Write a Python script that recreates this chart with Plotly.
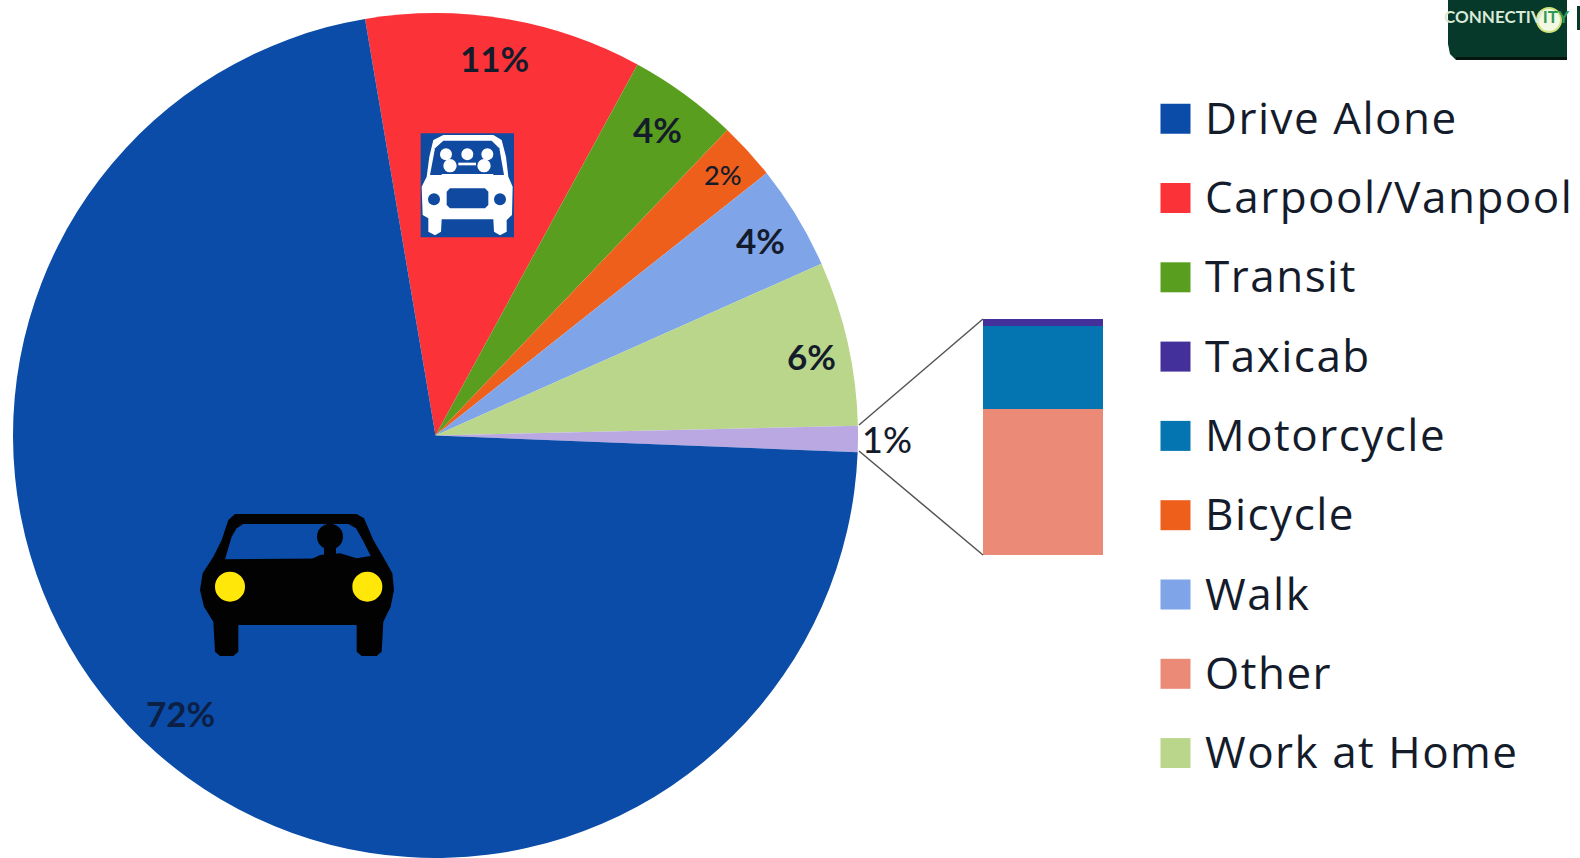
import plotly.graph_objects as go

W, H = 1580, 858

# ---- data ----
pie_labels = ["Carpool/Vanpool", "Transit", "Bicycle", "Walk", "Work at Home", "Other modes", "Drive Alone"]
pie_values = [10.6, 4.2, 2.2, 4.0, 6.3, 1.0, 71.7]
pie_colors = ["#fb3338", "#5a9e1f", "#ee5f1b", "#7fa4e8", "#b9d68b", "#b9a8e2", "#0a4ca8"]
pct_text = ["11%", "4%", "2%", "4%", "6%", "1%", "72%"]

stack_names = ["Other", "Motorcycle", "Taxicab"]
stack_values = [0.62, 0.35, 0.03]
stack_colors = ["#ec8a78", "#0475b0", "#44309a"]

legend_names = ["Drive Alone", "Carpool/Vanpool", "Transit", "Taxicab", "Motorcycle",
                "Bicycle", "Walk", "Other", "Work at Home"]
legend_colors = ["#0a4ca8", "#fb3338", "#5a9e1f", "#44309a", "#0475b0",
                 "#ee5f1b", "#7fa4e8", "#ec8a78", "#b9d68b"]

FONT = "Lato, Carlito, Calibri, sans-serif"
LEGEND_FONT = "Open Sans, Lato, sans-serif"
INK = "#141c2c"


def px(x):
    return x / W


def py(y):
    return 1 - y / H


def poly(points, fill):
    d = "M" + " L".join(f"{px(x):.5f} {py(y):.5f}" for x, y in points) + " Z"
    return dict(type="path", xref="paper", yref="paper", path=d,
                fillcolor=fill, line=dict(width=0), layer="above")


def circle(cx, cy, r, fill, line=None):
    return dict(type="circle", xref="paper", yref="paper",
                x0=px(cx - r), x1=px(cx + r), y0=py(cy + r), y1=py(cy - r),
                fillcolor=fill, line=dict(width=0) if line is None else line, layer="above")


def rect(x0, y0, x1, y1, fill):
    return dict(type="rect", xref="paper", yref="paper",
                x0=px(x0), x1=px(x1), y0=py(y1), y1=py(y0),
                fillcolor=fill, line=dict(width=0), layer="above")


fig = go.Figure()

fig.add_trace(go.Pie(
    labels=pie_labels, values=pie_values, sort=False, direction="clockwise", rotation=-9.6,
    marker=dict(colors=pie_colors, line=dict(width=0)),
    textinfo="none", showlegend=False, hole=0,
    domain=dict(x=[px(13), px(858)], y=[0, py(13)]),
))

for name, val, col in zip(stack_names, stack_values, stack_colors):
    fig.add_trace(go.Bar(x=["Other modes"], y=[val], name=name, width=1, showlegend=False,
                         marker=dict(color=col, line=dict(width=0)), xaxis="x", yaxis="y"))

fig.add_trace(go.Scatter(
    x=[0] * len(legend_names), y=legend_names, mode="markers", showlegend=False,
    marker=dict(symbol="square", size=30, color=legend_colors, line=dict(width=0)),
    xaxis="x2", yaxis="y2", hoverinfo="y",
))

# ---- pie labels ----
label_pos = {0: (494, 58, 35, 700), 1: (657, 129, 35, 700), 2: (722, 174, 27, 500),
             3: (760, 240, 35, 700), 4: (812, 356, 35, 700), 5: (887, 439, 36, 500),
             6: (180, 713, 35, 700)}
ann = []
for i, (x, y, s, w) in label_pos.items():
    ann.append(dict(x=px(x), y=py(y), xref="paper", yref="paper", text=pct_text[i], showarrow=False,
                    xanchor="center", yanchor="middle",
                    font=dict(family=FONT, size=s, color="#0c1f45" if i == 6 else INK, weight=w)))

for name in legend_names:
    ann.append(dict(x=px(1203), xref="paper", y=name, yref="y2", text=name, showarrow=False,
                    xanchor="left", align="left", yanchor="middle", yshift=2,
                    font=dict(family=LEGEND_FONT, size=44, color=INK)))

# ---- logo text ----
ann.append(dict(x=px(1507), y=py(16), xref="paper", yref="paper", showarrow=False,
                xanchor="center", yanchor="middle",
                text='<span style="color:#d9ead8">CONNECTIV</span><span style="color:#2f9a55">ITY</span>',
                font=dict(family=FONT, size=17, weight=700)))

# ---- decorative pieces ----
shapes = []
line_style = dict(color="#555555", width=1.5)
for (x0, y0, x1, y1) in [(859, 425, 983, 319), (859, 451, 983, 555)]:
    shapes.append(dict(type="line", xref="paper", yref="paper", x0=px(x0), x1=px(x1),
                       y0=py(y0), y1=py(y1), line=line_style, layer="above"))

# logo
shapes.append(poly([(1448, 0), (1567, 0), (1567, 60), (1456, 60), (1450, 54), (1448, 44)], "#07392a"))
shapes.append(rect(1456, 57, 1567, 60, "#02150f"))
shapes.append(rect(1577, 6, 1580, 30, "#07392a"))
shapes.append(circle(1549, 20, 12, "#f2f8e2", dict(color="#cfe37a", width=2)))


def car(zx, zy):
    return (180 + zx / 3, 490 + zy / 3)


body = [(165, 72), (530, 72), (552, 85), (580, 150), (612, 205), (637, 250), (642, 300), (632, 350),
        (610, 395), (605, 485), (590, 498), (545, 498), (530, 485), (530, 405), (175, 405), (175, 485),
        (160, 498), (120, 498), (105, 485), (100, 395), (72, 350), (60, 300), (68, 250), (100, 200),
        (125, 150), (145, 90)]
window = [(190, 102), (505, 102), (528, 115), (548, 150), (572, 198), (530, 205), (135, 208),
          (155, 140), (170, 115)]
shoulders = [(385, 212), (420, 195), (480, 190), (530, 205), (530, 220), (385, 220)]
shapes.append(poly([car(*p) for p in body], "#020202"))
shapes.append(poly([car(*p) for p in window], "#0a4ca8"))
shapes.append(poly([car(*p) for p in shoulders], "#020202"))
shapes.append(rect(*car(432, 160), *car(468, 200), "#020202"))
hx, hy = car(450, 140)
shapes.append(circle(hx, hy, 13, "#020202"))
for zx in (150, 562):
    cx, cy = car(zx, 290)
    shapes.append(circle(cx, cy, 15, "#ffe70a"))


def van(zx, zy):
    return (400 + zx / 3, 120 + zy / 3)


VB = "#0f4aa0"
shapes.append(rect(*van(62, 40), *van(342, 352), VB))
van_body = [(130, 45), (280, 45), (305, 60), (318, 110), (325, 170), (338, 200), (336, 285), (320, 300),
            (320, 335), (300, 346), (282, 335), (280, 298), (125, 298), (123, 335), (105, 346), (85, 335),
            (85, 295), (68, 285), (65, 200), (80, 170), (88, 110), (100, 60)]
van_window = [(130, 62), (275, 62), (298, 85), (312, 165), (90, 165), (105, 85)]
shapes.append(poly([van(*p) for p in van_body], "#ffffff"))
shapes.append(poly([van(*p) for p in van_window], VB))
for zx, zy, r in [(138, 103, 18), (202, 103, 18), (262, 103, 18), (150, 137, 20), (252, 137, 20)]:
    cx, cy = van(zx, zy)
    shapes.append(circle(cx, cy, r / 3, "#ffffff"))
shapes.append(rect(*van(175, 128), *van(228, 136), "#ffffff"))
shapes.append(rect(*van(125, 162), *van(280, 168), "#ffffff"))
for zx in (102, 300):
    cx, cy = van(zx, 238)
    shapes.append(circle(cx, cy, 6, VB))
shapes.append(poly([van(*p) for p in [(150, 205), (255, 205), (265, 215), (265, 255), (255, 265),
                                      (150, 265), (140, 255), (140, 215)]], VB))

top, step = 118.7, 79.3
fig.update_layout(
    width=W, height=H, margin=dict(l=0, r=0, t=0, b=0),
    paper_bgcolor="white", plot_bgcolor="rgba(0,0,0,0)",
    barmode="stack", showlegend=False, bargap=0,
    xaxis=dict(domain=[px(983), px(1103)], range=[-0.5, 0.5], type="category", visible=False, fixedrange=True),
    yaxis=dict(domain=[py(555), py(319)], range=[0, 1], visible=False, fixedrange=True),
    xaxis2=dict(domain=[px(1150), px(1201)], range=[-1, 1], visible=False, fixedrange=True, anchor="y2"),
    yaxis2=dict(domain=[py(top + 8.5 * step), py(top - 0.5 * step)], type="category",
                categoryorder="array", categoryarray=legend_names, range=[8.5, -0.5],
                visible=False, fixedrange=True, anchor="x2"),
    shapes=shapes, annotations=ann,
)

post = ("document.body.style.margin='0';document.body.style.overflow='hidden';"
        "document.querySelectorAll('.annotation-text').forEach(function(t){"
        "if(t.textContent.length>3 && t.textContent!=='CONNECTIVITY'){t.style.letterSpacing='1.5px';}});")
fig.write_html("out.html", config=dict(displayModeBar=False), post_script=post)
